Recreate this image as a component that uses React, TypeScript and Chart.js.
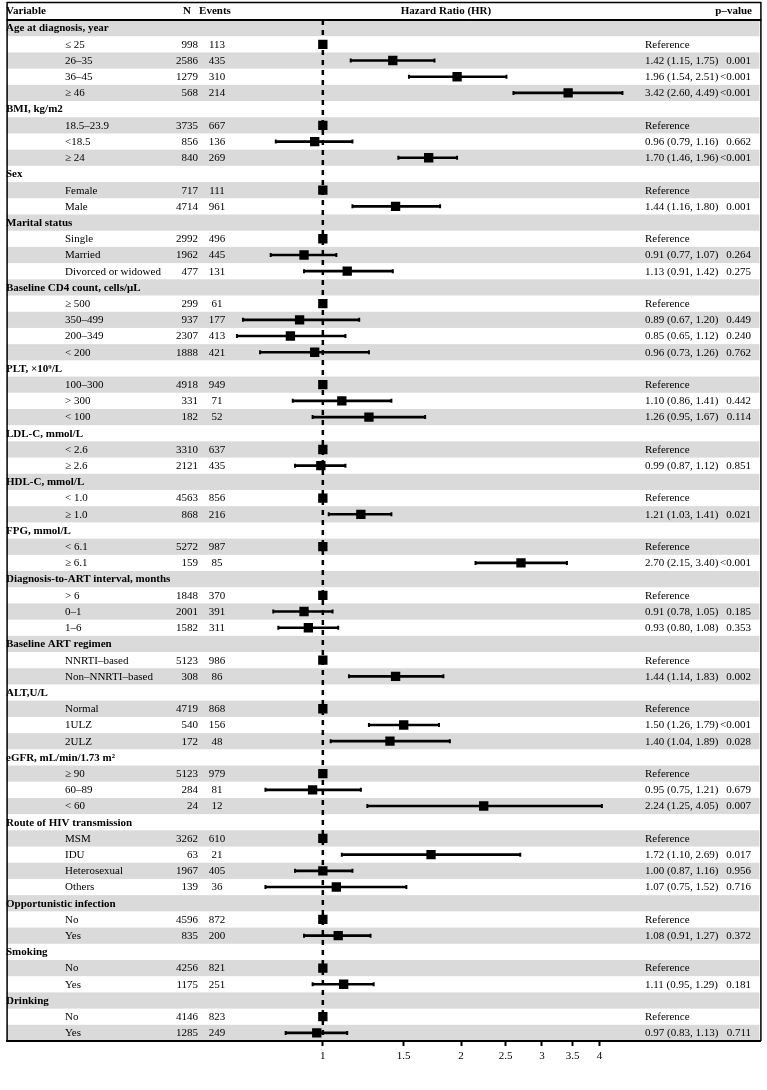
import React, { useEffect, useRef } from "react";
import { Chart, registerables } from "chart.js";

Chart.register(...registerables);

// ---------- data ----------
const rowLabels: string[] = [
  "Age at diagnosis, year", "≤ 25", "26–35", "36–45", "≥ 46",
  "BMI, kg/m2", "18.5–23.9", "<18.5", "≥ 24",
  "Sex", "Female", "Male",
  "Marital status", "Single", "Married", "Divorced or widowed",
  "Baseline CD4 count, cells/μL", "≥ 500", "350–499", "200–349", "< 200",
  "PLT, ×10⁹/L", "100–300", "> 300", "< 100",
  "LDL-C, mmol/L", "< 2.6", "≥ 2.6",
  "HDL-C, mmol/L", "< 1.0", "≥ 1.0",
  "FPG, mmol/L", "< 6.1", "≥ 6.1",
  "Diagnosis-to-ART interval, months", "> 6", "0–1", "1–6",
  "Baseline ART regimen", "NNRTI–based", "Non–NNRTI–based",
  "ALT,U/L", "Normal", "1ULZ", "2ULZ",
  "eGFR, mL/min/1.73 m²", "≥ 90", "60–89", "< 60",
  "Route of HIV transmission", "MSM", "IDU", "Heterosexual", "Others",
  "Opportunistic infection", "No", "Yes",
  "Smoking", "No", "Yes",
  "Drinking", "No", "Yes",
];

const nCounts: (number | null)[] = [
  null, 998, 2586, 1279, 568,
  null, 3735, 856, 840,
  null, 717, 4714,
  null, 2992, 1962, 477,
  null, 299, 937, 2307, 1888,
  null, 4918, 331, 182,
  null, 3310, 2121,
  null, 4563, 868,
  null, 5272, 159,
  null, 1848, 2001, 1582,
  null, 5123, 308,
  null, 4719, 540, 172,
  null, 5123, 284, 24,
  null, 3262, 63, 1967, 139,
  null, 4596, 835,
  null, 4256, 1175,
  null, 4146, 1285,
];

const eventCounts: (number | null)[] = [
  null, 113, 435, 310, 214,
  null, 667, 136, 269,
  null, 111, 961,
  null, 496, 445, 131,
  null, 61, 177, 413, 421,
  null, 949, 71, 52,
  null, 637, 435,
  null, 856, 216,
  null, 987, 85,
  null, 370, 391, 311,
  null, 986, 86,
  null, 868, 156, 48,
  null, 979, 81, 12,
  null, 610, 21, 405, 36,
  null, 872, 200,
  null, 821, 251,
  null, 823, 249,
];

// 1 = reference category, null = group header
const hazardRatios: (number | null)[] = [
  null, 1, 1.42, 1.96, 3.42,
  null, 1, 0.96, 1.70,
  null, 1, 1.44,
  null, 1, 0.91, 1.13,
  null, 1, 0.89, 0.85, 0.96,
  null, 1, 1.10, 1.26,
  null, 1, 0.99,
  null, 1, 1.21,
  null, 1, 2.70,
  null, 1, 0.91, 0.93,
  null, 1, 1.44,
  null, 1, 1.50, 1.40,
  null, 1, 0.95, 2.24,
  null, 1, 1.72, 1.00, 1.07,
  null, 1, 1.08,
  null, 1, 1.11,
  null, 1, 0.97,
];

const ciLower: (number | null)[] = [
  null, null, 1.15, 1.54, 2.60,
  null, null, 0.79, 1.46,
  null, null, 1.16,
  null, null, 0.77, 0.91,
  null, null, 0.67, 0.65, 0.73,
  null, null, 0.86, 0.95,
  null, null, 0.87,
  null, null, 1.03,
  null, null, 2.15,
  null, null, 0.78, 0.80,
  null, null, 1.14,
  null, null, 1.26, 1.04,
  null, null, 0.75, 1.25,
  null, null, 1.10, 0.87, 0.75,
  null, null, 0.91,
  null, null, 0.95,
  null, null, 0.83,
];

const ciUpper: (number | null)[] = [
  null, null, 1.75, 2.51, 4.49,
  null, null, 1.16, 1.96,
  null, null, 1.80,
  null, null, 1.07, 1.42,
  null, null, 1.20, 1.12, 1.26,
  null, null, 1.41, 1.67,
  null, null, 1.12,
  null, null, 1.41,
  null, null, 3.40,
  null, null, 1.05, 1.08,
  null, null, 1.83,
  null, null, 1.79, 1.89,
  null, null, 1.21, 4.05,
  null, null, 2.69, 1.16, 1.52,
  null, null, 1.27,
  null, null, 1.29,
  null, null, 1.13,
];

const pValues: (string | null)[] = [
  null, null, "0.001", "<0.001", "<0.001",
  null, null, "0.662", "<0.001",
  null, null, "0.001",
  null, null, "0.264", "0.275",
  null, null, "0.449", "0.240", "0.762",
  null, null, "0.442", "0.114",
  null, null, "0.851",
  null, null, "0.021",
  null, null, "<0.001",
  null, null, "0.185", "0.353",
  null, null, "0.002",
  null, null, "<0.001", "0.028",
  null, null, "0.679", "0.007",
  null, null, "0.017", "0.956", "0.716",
  null, null, "0.372",
  null, null, "0.181",
  null, null, "0.711",
];

const referenceText = "Reference";
const xTickValues = [1, 1.5, 2, 2.5, 3, 3.5, 4];
const columnHeaders = ["Variable", "N", "Events", "Hazard Ratio (HR)", "p–value"];

// ---------- layout constants ----------
const W = 767;
const H = 1090;
const X_MIN = 0.2049;
const X_MAX = 8.966;
const FONT = "'Liberation Serif', 'Times New Roman', serif";
const STRIPE = "#dadada";

export default function App() {
  const ref = useRef<HTMLCanvasElement | null>(null);

  useEffect(() => {
    document.body.style.margin = "0";
    const canvas = ref.current;
    if (!canvas) return;

    const idx = rowLabels.map((_, i) => i);
    const ciRows = idx.filter((i) => ciLower[i] != null && ciUpper[i] != null);
    const ciData = ciRows.map((i) => ({ x: [ciLower[i] as number, ciUpper[i] as number], y: i }));
    const capData = ciRows.flatMap((i) => [
      { x: ciLower[i] as number, y: i },
      { x: ciUpper[i] as number, y: i },
    ]);
    const hrData = idx
      .filter((i) => hazardRatios[i] != null)
      .map((i) => ({ x: hazardRatios[i] as number, y: i }));
    const refLine = [
      { x: 1, y: -0.5 },
      { x: 1, y: rowLabels.length - 0.5 },
    ];

    const stripesPlugin = {
      id: "stripes",
      beforeDraw(chart: any) {
        const { ctx, chartArea, scales } = chart;
        const y = scales.y;
        ctx.save();
        ctx.fillStyle = STRIPE;
        for (let i = 0; i < rowLabels.length; i += 2) {
          const t = y.getPixelForValue(i - 0.5);
          const b = y.getPixelForValue(i + 0.5);
          ctx.fillRect(chartArea.left, t, chartArea.right - chartArea.left - 1, b - t);
        }
        ctx.restore();
      },
    };

    const textPlugin = {
      id: "tableText",
      afterDatasetsDraw(chart: any) {
        const { ctx, scales, chartArea } = chart;
        const y = scales.y;
        ctx.save();
        ctx.fillStyle = "#000";
        ctx.textBaseline = "middle";
        const bold = `bold 11px ${FONT}`;
        const normal = `11px ${FONT}`;
        // header row
        const hy = (2 + chartArea.top) / 2;
        ctx.font = bold;
        ctx.textAlign = "left";
        ctx.fillText(columnHeaders[0], 6, hy);
        ctx.textAlign = "right";
        ctx.fillText(columnHeaders[1], 191, hy);
        ctx.textAlign = "center";
        ctx.fillText(columnHeaders[2], 215, hy);
        ctx.fillText(columnHeaders[3], 446, hy);
        ctx.textAlign = "right";
        ctx.fillText(columnHeaders[4], 752, hy);

        for (let i = 0; i < rowLabels.length; i++) {
          const py = y.getPixelForValue(i) + 0.5;
          const isGroup = nCounts[i] == null;
          if (isGroup) {
            ctx.font = bold;
            ctx.textAlign = "left";
            ctx.fillText(rowLabels[i], 6, py);
            continue;
          }
          ctx.font = normal;
          ctx.textAlign = "left";
          ctx.fillText(rowLabels[i], 65, py);
          ctx.textAlign = "right";
          ctx.fillText(String(nCounts[i]), 198, py);
          ctx.textAlign = "center";
          ctx.fillText(String(eventCounts[i]), 217, py);
          ctx.textAlign = "left";
          if (ciLower[i] == null) {
            ctx.fillText(referenceText, 645, py);
          } else {
            const s = `${(hazardRatios[i] as number).toFixed(2)} (${(ciLower[i] as number).toFixed(2)}, ${(ciUpper[i] as number).toFixed(2)})`;
            ctx.fillText(s, 645, py);
            ctx.textAlign = "right";
            ctx.fillText(pValues[i] as string, 751, py);
          }
        }
        ctx.restore();
      },
      afterDraw(chart: any) {
        const { ctx, chartArea } = chart;
        ctx.save();
        ctx.strokeStyle = "#000";
        ctx.lineWidth = 1.5;
        ctx.beginPath();
        ctx.moveTo(chartArea.left, 2.5);
        ctx.lineTo(chartArea.right + 1, 2.5);
        ctx.moveTo(chartArea.left + 0.5, 2);
        ctx.lineTo(chartArea.left + 0.5, chartArea.bottom);
        ctx.moveTo(chartArea.right + 0.5, 2);
        ctx.lineTo(chartArea.right + 0.5, chartArea.bottom);
        ctx.stroke();
        ctx.lineWidth = 2;
        ctx.beginPath();
        ctx.moveTo(chartArea.left, chartArea.top);
        ctx.lineTo(chartArea.right + 1, chartArea.top);
        ctx.stroke();
        ctx.restore();
      },
    };

    const chart = new Chart(canvas, {
      type: "scatter",
      data: {
        datasets: [
          {
            type: "scatter",
            data: hrData,
            pointStyle: "rect",
            pointRadius: 6.6,
            pointBackgroundColor: "#000",
            pointBorderWidth: 0,
            order: 0,
          } as any,
          {
            type: "scatter",
            data: capData,
            pointStyle: "line",
            rotation: 90,
            pointRadius: 2,
            pointBorderColor: "#000",
            pointBorderWidth: 2,
            order: 1,
          } as any,
          {
            type: "bar",
            indexAxis: "y",
            data: ciData,
            barThickness: 2,
            backgroundColor: "#000",
            borderWidth: 0,
            order: 2,
          } as any,
          {
            type: "scatter",
            data: refLine,
            showLine: true,
            borderColor: "#000",
            borderWidth: 2.5,
            borderDash: [5, 5],
            pointRadius: 0,
            order: 3,
          } as any,
        ],
      },
      options: {
        animation: false,
        responsive: false,
        events: [],
        layout: { padding: { top: 20, left: 3, right: 6, bottom: 19 } },
        plugins: {
          legend: { display: false },
          tooltip: { enabled: false },
        },
        scales: {
          x: {
            type: "logarithmic",
            min: X_MIN,
            max: X_MAX,
            bounds: "data",
            offset: false,
            beginAtZero: false,
            afterBuildTicks: (s: any) => {
              s.ticks = xTickValues.map((v) => ({ value: v }));
            },
            afterFit: (s: any) => {
              s.height = 30;
            },
            ticks: {
              callback: (v: any) => String(v),
              color: "#000",
              font: { size: 11, family: FONT },
              padding: 4,
              autoSkip: false,
              maxRotation: 0,
            },
            grid: {
              display: true,
              offset: false,
              drawOnChartArea: false,
              drawTicks: true,
              tickLength: 5,
              tickWidth: 2,
              tickColor: "#000",
            },
            border: { display: true, color: "#000", width: 2 },
          },
          y: {
            type: "linear",
            display: false,
            offset: false,
            grid: { offset: false },
            min: -0.5,
            max: rowLabels.length - 0.5,
            reverse: true,
            bounds: "data",
          },
        },
      } as any,
      plugins: [stripesPlugin, textPlugin],
    });

    return () => chart.destroy();
  }, []);

  return (
    <div style={{ width: W, height: H }}>
      <canvas ref={ref} width={W} height={H} style={{ display: "block" }} />
    </div>
  );
}
